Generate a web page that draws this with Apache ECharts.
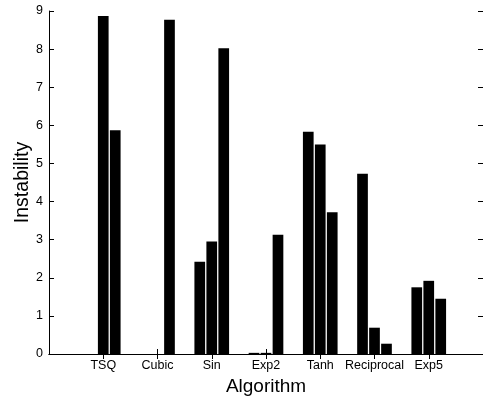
<!DOCTYPE html>
<html>
<head>
<meta charset="utf-8">
<script src="https://cdn.jsdelivr.net/npm/echarts@6/dist/echarts.min.js"></script>
<style>
html,body{margin:0;padding:0;background:#fff;}
#chart{width:483px;height:397px;}
</style>
</head>
<body>
<div id="chart"></div>
<script>
const categories = ['TSQ', 'Cubic', 'Sin', 'Exp2', 'Tanh', 'Reciprocal', 'Exp5'];
const series1 = [0, 0, 2.42, 0.03, 5.83, 4.73, 1.75];
const series2 = [8.87, 0, 2.95, 0.03, 5.50, 0.69, 1.92];
const series3 = [5.87, 8.77, 8.02, 3.13, 3.72, 0.27, 1.45];
const yTicks = [0, 1, 2, 3, 4, 5, 6, 7, 8, 9];
const xTitle = 'Algorithm';
const yTitle = 'Instability';

const axisCats = [''].concat(categories, ['']);
const pad = arr => [null].concat(arr, [null]);
const font = "'Liberation Sans', Arial, Helvetica, sans-serif";

const chart = echarts.init(document.getElementById('chart'), null, {renderer: 'canvas'});
const tickFilter = function (index) { return index >= 1 && index <= categories.length; };
const mkBar = (name, d) => ({
  name: name, type: 'bar', data: pad(d),
  barWidth: 10.7, barGap: '12%',
  itemStyle: {color: '#000', borderWidth: 0},
  animation: false
});
chart.setOption({
  backgroundColor: '#fff',
  animation: false,
  grid: {left: 49, top: 11, right: 0, bottom: 43, containLabel: false, outerBoundsMode: 'none'},
  graphic: [{
    type: 'text', x: 23, y: 182.5, rotation: Math.PI / 2, silent: true,
    style: {text: yTitle, fill: '#000', font: '19.5px ' + font, align: 'center', verticalAlign: 'middle'}
  }],
  xAxis: [{
    type: 'category', data: axisCats, boundaryGap: false, position: 'bottom',
    name: xTitle, nameLocation: 'middle', nameGap: 21,
    nameTextStyle: {fontFamily: font, fontSize: 19, color: '#000'},
    axisLine: {show: true, lineStyle: {color: '#000', width: 1}},
    axisTick: {show: true, inside: true, length: 5, interval: tickFilter, lineStyle: {color: '#000'}},
    axisLabel: {show: true, interval: 0, margin: 5, fontFamily: font, fontSize: 12.5, color: '#000'},
    splitLine: {show: false}
  }, {
    type: 'category', data: axisCats, boundaryGap: false, position: 'top',
    axisLine: {show: true, lineStyle: {color: '#000', width: 1}},
    axisTick: {show: true, inside: true, length: 5, interval: tickFilter, lineStyle: {color: '#000'}},
    axisLabel: {show: false}, splitLine: {show: false}
  }],
  yAxis: [{
    type: 'value', min: yTicks[0], max: yTicks[yTicks.length - 1], interval: 1,
    axisLine: {show: true, lineStyle: {color: '#000', width: 1}},
    axisTick: {show: true, inside: true, length: 5, lineStyle: {color: '#000'}},
    axisLabel: {show: true, margin: 6, fontFamily: font, fontSize: 12.5, color: '#000'},
    splitLine: {show: false}
  }, {
    type: 'value', min: yTicks[0], max: yTicks[yTicks.length - 1], interval: 1, position: 'right',
    axisLine: {show: true, lineStyle: {color: '#000', width: 1}},
    axisTick: {show: true, inside: true, length: 5, lineStyle: {color: '#000'}},
    axisLabel: {show: false}, splitLine: {show: false}
  }],
  series: [mkBar('s1', series1), mkBar('s2', series2), mkBar('s3', series3)]
});
</script>
</body>
</html>
